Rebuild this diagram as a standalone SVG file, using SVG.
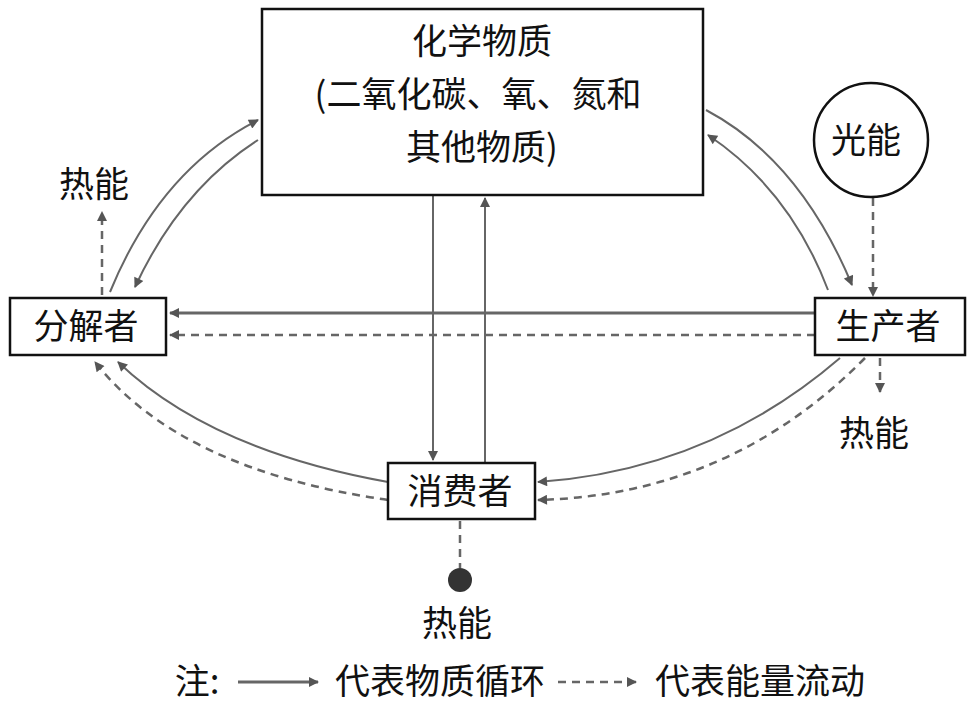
<svg xmlns="http://www.w3.org/2000/svg" width="976" height="705" viewBox="0 0 976 705">
<style>
text{font-family:"Noto Sans CJK SC","Liberation Sans",sans-serif;font-size:35px;fill:#111;text-anchor:middle}
.box{fill:#fff;stroke:#111;stroke-width:2.5}
.c{fill:none;stroke:#666;stroke-width:2;marker-end:url(#a)}
.d{fill:none;stroke:#666;stroke-width:2.5;stroke-dasharray:8,6;marker-end:url(#a)}
</style>
<defs>
<marker id="a" viewBox="0 0 10 10" refX="9" refY="5" markerWidth="12" markerHeight="10" orient="auto" markerUnits="userSpaceOnUse"><path d="M0,0L10,5L0,10z" fill="#555"/></marker>
</defs>
<rect width="976" height="705" fill="#fff"/>
<g id="connectors">
<path class="c" d="M110,292 Q160,170 258,120"/>
<path class="c" d="M258,140 Q180,190 135,287"/>
<path class="c" d="M706,110 Q800,160 852,285"/>
<path class="c" d="M828,290 Q790,190 708,135"/>
<path class="c" d="M815,313 L170,313" style="stroke-width:3"/>
<path class="d" d="M815,335 L170,335"/>
<path class="d" d="M873,198 L873,296"/>
<path class="d" d="M880,358 L880,392"/>
<path class="d" d="M102,295 L102,212"/>
<path class="c" d="M433,195 L433,460"/>
<path class="c" d="M485,463 L485,198"/>
<path class="c" d="M388,482 Q210,450 118,362"/>
<path class="d" d="M388,500 Q180,470 95,362"/>
<path class="c" d="M840,358 Q710,470 538,482"/>
<path class="d" d="M865,358 Q730,495 538,500"/>
<path class="d" d="M460,521 L460,568" style="marker-end:none"/>
</g>
<g id="chem"><rect class="box" x="262" y="9" width="441" height="186"/>
<text x="482" y="54">化学物质</text><text x="478" y="107">(二氧化碳、氧、氮和</text><text x="482" y="160">其他物质)</text></g>
<g id="decomposer"><rect class="box" x="10" y="298" width="156" height="57"/><text x="86" y="339">分解者</text></g>
<g id="producer"><rect class="box" x="815" y="298" width="150" height="57"/><text x="888" y="339">生产者</text></g>
<g id="consumer"><rect class="box" x="388" y="463" width="147" height="56"/><text x="460" y="504">消费者</text></g>
<g id="light"><ellipse cx="871" cy="140" rx="57" ry="57" fill="#fff" stroke="#111" stroke-width="2.5"/><text x="866" y="153">光能</text></g>
<g id="heat1"><text x="94" y="197">热能</text></g>
<g id="heat2"><text x="874" y="446">热能</text></g>
<g id="heat3"><circle cx="460" cy="580" r="12" fill="#333"/><text x="457" y="636">热能</text></g>
<g id="legend">
<text x="197" y="694">注:</text>
<path class="c" d="M238,682 L318,682" style="stroke-width:3"/>
<text x="440" y="694">代表物质循环</text>
<path class="d" d="M558,682 L636,682"/>
<text x="760" y="694">代表能量流动</text>
</g>
</svg>
